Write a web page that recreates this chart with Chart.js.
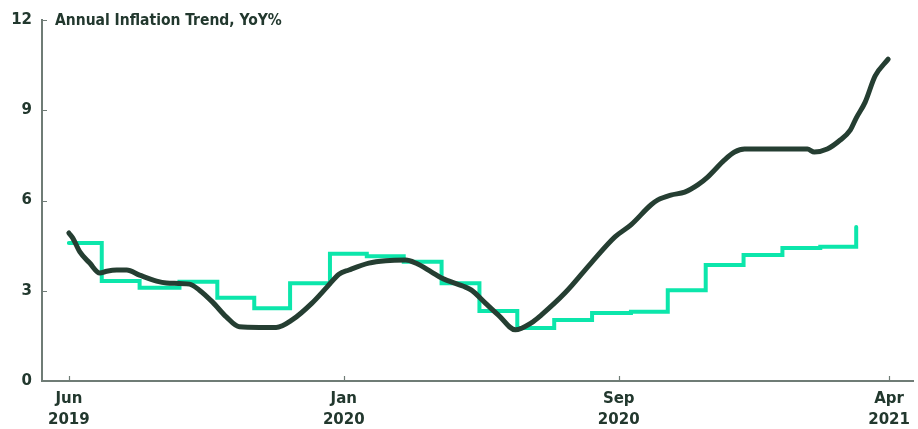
<!DOCTYPE html>
<html>
<head>
<meta charset="utf-8">
<script src="https://cdn.jsdelivr.net/npm/chart.js@4.4.1/dist/chart.umd.min.js"></script>
<style>
  html, body { margin: 0; padding: 0; background: #fff; }
  #wrap { width: 918px; height: 429px; }
</style>
</head>
<body>
<div id="wrap"><canvas id="line-chart"></canvas></div>
<script>
// x is measured in weeks from the start of Jun 2019
const tickWeeks = [0, 30, 60, 89.5];
const tickLabels = [["Jun", "2019"], ["Jan", "2020"], ["Sep", "2020"], ["Apr", "2021"]];
const yTicks = [0, 3, 6, 9, 12];

// daily trend series (sampled)
const trendWeeks = [
  0, 0.43, 1.2, 2.28, 3.37, 4.13, 5.22, 6.31, 7.72, 9.57, 10.66, 13.16, 14.25,
  15.66, 17.18, 18.6, 20.77, 22.62, 24.36, 26.53, 28.16, 29.47, 30.56, 32.73,
  34.58, 36.76, 37.84, 39.58, 40.67, 43.28, 43.93, 45.45, 46.87, 48.72, 50.46,
  51.54, 54.15, 56.98, 59.59, 61.33, 63.5, 64.27, 65.68, 67.2, 68.62, 69.7,
  71.55, 72.64, 73.73, 80.58, 81.34, 82.75, 84.17, 85.26, 85.91, 86.89, 87.98,
  89.4,
];
const trendValues = [
  4.92, 4.75, 4.29, 3.92, 3.59, 3.65, 3.69, 3.69, 3.52, 3.32, 3.26, 3.22, 3.02,
  2.63, 2.13, 1.8, 1.78, 1.78, 2.03, 2.59, 3.12, 3.55, 3.69, 3.92,
  4.0, 4.02, 3.92, 3.62, 3.42, 3.12, 3.02, 2.59, 2.19, 1.7, 1.93,
  2.19, 2.93, 3.92, 4.79, 5.19, 5.85, 6.02, 6.18, 6.28, 6.52, 6.78,
  7.35, 7.61, 7.71, 7.71, 7.61, 7.71, 8.01, 8.34, 8.74, 9.27, 10.14,
  10.7,
];

// monthly official print, held until the next release
const monthlyWeeks = [
  0, 3.59, 7.72, 12.07, 16.2, 20.23, 24.14, 28.49, 32.51, 36.54, 40.67, 44.8,
  48.93, 52.96, 57.09, 61.33, 65.35, 69.49, 73.62, 77.86, 81.99, 85.91,
];
const monthlyValues = [
  4.59, 3.32, 3.1, 3.3, 2.77, 2.42, 3.25, 4.23, 4.15, 3.96, 3.25, 2.33,
  1.76, 2.03, 2.26, 2.3, 3.02, 3.86, 4.19, 4.42, 4.46, 5.12,
];

const inkColor = "#22382e";
const axisColor = "#6f7c76";
const labelFont = "'DejaVu Sans', sans-serif";

const toPoints = (xs, ys) => xs.map((x, i) => ({ x, y: ys[i] }));

// short inward tick marks plus the heading inside the plot
const axisExtras = {
  id: "axisExtras",
  afterDraw(chart) {
    const { ctx, chartArea, scales } = chart;
    ctx.save();
    ctx.strokeStyle = axisColor;
    ctx.lineWidth = 1.2;
    ctx.beginPath();
    tickWeeks.forEach((w) => {
      const px = Math.round(scales.x.getPixelForValue(w)) + 0.5;
      ctx.moveTo(px, chartArea.bottom);
      ctx.lineTo(px, chartArea.bottom - 5);
    });
    yTicks.forEach((v) => {
      const py = Math.round(scales.y.getPixelForValue(v)) + 0.5;
      ctx.moveTo(chartArea.left, py);
      ctx.lineTo(chartArea.left + 5, py);
    });
    ctx.stroke();

    ctx.fillStyle = inkColor;
    ctx.font = "bold 15.5px 'DejaVu Sans Condensed', 'DejaVu Sans', sans-serif";
    ctx.textBaseline = "middle";
    ctx.fillText("Annual Inflation Trend, YoY%", chartArea.left + 13, scales.y.getPixelForValue(12) + 1);
    ctx.restore();
  },
};

new Chart(document.getElementById("line-chart"), {
  type: "line",
  data: {
    datasets: [
      {
        data: toPoints(trendWeeks, trendValues),
        borderColor: "#253e32",
        borderWidth: 5,
        pointRadius: 0,
        tension: 0.3,
        cubicInterpolationMode: "monotone",
        borderCapStyle: "round",
        borderJoinStyle: "round",
      },
      {
        data: toPoints(monthlyWeeks, monthlyValues),
        borderColor: "#0ce6ab",
        borderWidth: 4,
        pointRadius: 0,
        stepped: true,
        borderCapStyle: "round",
      },
    ],
  },
  options: {
    responsive: true,
    maintainAspectRatio: false,
    animation: false,
    layout: { padding: { top: 20, right: 1, left: 0, bottom: 0 } },
    scales: {
      x: {
        type: "linear",
        min: -2.93,
        max: 92.2,
        afterBuildTicks: (scale) => {
          scale.ticks = tickWeeks.map((value) => ({ value }));
        },
        afterFit: (scale) => {
          scale.height = 48;
        },
        ticks: {
          autoSkip: false,
          maxRotation: 0,
          padding: 8,
          color: inkColor,
          font: { family: labelFont, size: 15, weight: "bold", lineHeight: 1.4 },
          callback: (value) => tickLabels[tickWeeks.indexOf(value)],
        },
        grid: { display: false, drawTicks: false },
        border: { display: true, color: axisColor, width: 2 },
      },
      y: {
        min: 0,
        max: 12,
        afterBuildTicks: (scale) => {
          scale.ticks = yTicks.map((value) => ({ value }));
        },
        afterFit: (scale) => {
          scale.width = 42;
        },
        ticks: {
          padding: 10,
          color: inkColor,
          font: { family: labelFont, size: 15, weight: "bold" },
        },
        grid: { display: false, drawTicks: false },
        border: { display: true, color: axisColor, width: 2 },
      },
    },
    plugins: {
      legend: { display: false },
      tooltip: { enabled: false },
    },
  },
  plugins: [axisExtras],
});
</script>
</body>
</html>
